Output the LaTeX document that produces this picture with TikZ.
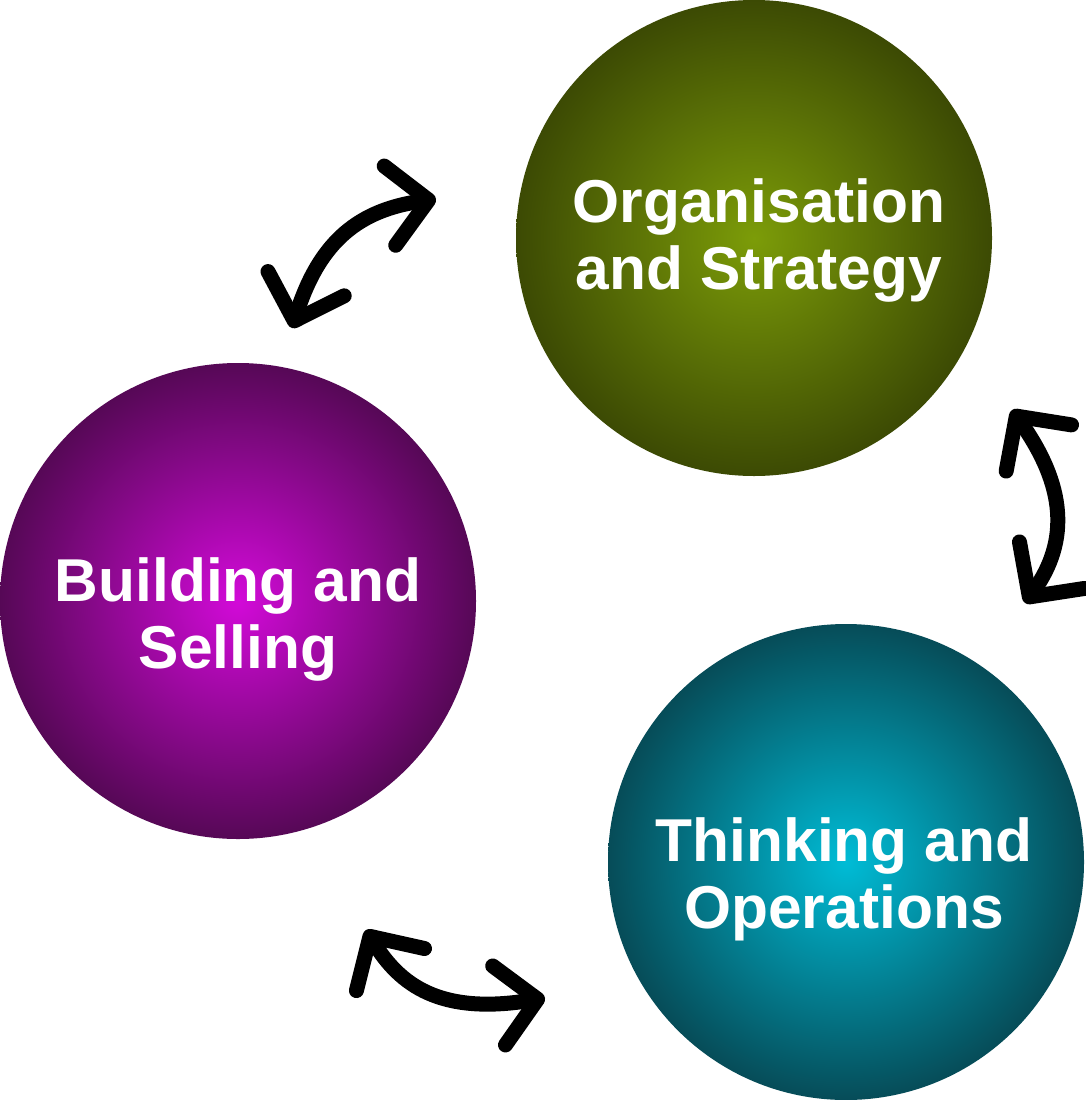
\documentclass[tikz,border=0pt]{standalone}
\usepackage{fontspec}
\setmainfont{Liberation Sans}
\usepackage{xcolor}
\usepackage{tikz}
\usetikzlibrary{arrows.meta}
\definecolor{orglight}{RGB}{124,156,8}
\definecolor{orgdark}{RGB}{60,74,4}
\definecolor{buildlight}{RGB}{210,10,216}
\definecolor{builddark}{RGB}{86,8,86}
\definecolor{thinklight}{RGB}{0,188,214}
\definecolor{thinkdark}{RGB}{6,76,88}
\tikzset{
    barb/.tip={Straight Barb[length=39pt, width=80pt, round]}
}

\begin{document}
\begin{tikzpicture}[
    x=1pt, y=-1pt,
    topic/.style={
        circle,
        minimum size=476pt,
        inner sep=0pt,
        shading=radial
    },
    caption/.style={
        align=center,
        text=white,
        inner sep=0pt,
        font=\fontsize{60.5}{67}\selectfont\bfseries
    },
    link/.style={
        draw=black,
        line width=15pt,
        line cap=round,
        arrows={barb-barb}
    }
]
\useasboundingbox (0,0) rectangle (1086,1100);

% circles
\node[topic, inner color=orglight, outer color=orgdark] (org) at (754,238) {};
\node[topic, inner color=buildlight, outer color=builddark] (build) at (238,601) {};
\node[topic, inner color=thinklight, outer color=thinkdark] (think) at (846,862) {};

% captions
\node[caption] (orgtxt) at (759,240) {Organisation\\and Strategy};
\node[caption] (buildtxt) at (238,619) {Building and\\Selling};
\node[caption] (thinktxt) at (844,879) {Thinking and\\Operations};

% arrow ends
\coordinate (bo1) at (292,328);
\coordinate (bo2) at (436,199);
\coordinate (ot1) at (1012,410);
\coordinate (ot2) at (1025,603);
\coordinate (tb1) at (366,930);
\coordinate (tb2) at (545,998);

\draw[link] (bo1) .. controls (320,240) and (360,210) .. (bo2);
\draw[link] (ot1) .. controls (1065,485) and (1070,540) .. (ot2);
\draw[link] (tb1) .. controls (400,985) and (440,1015) .. (tb2);

\end{tikzpicture}
\end{document}
